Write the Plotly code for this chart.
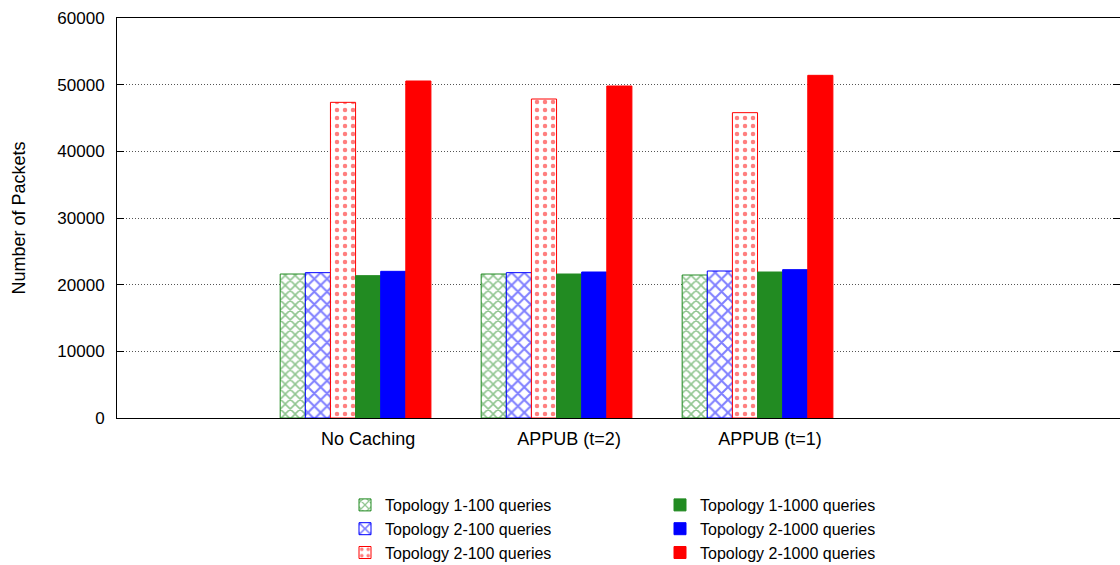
import plotly.graph_objects as go

# Packet counts per caching scheme
categories = ["No Caching", "APPUB (t=2)", "APPUB (t=1)"]
series_names = [
    "Topology 1-100 queries",
    "Topology 2-100 queries",
    "Topology 2-100 queries",
    "Topology 1-1000 queries",
    "Topology 2-1000 queries",
    "Topology 2-1000 queries",
]
topo1_100 = [21600, 21600, 21450]
topo2_100 = [21800, 21800, 22050]
topo2_100b = [47350, 47850, 45800]
topo1_1000 = [21350, 21600, 21900]
topo2_1000 = [22000, 21900, 22250]
topo2_1000b = [50550, 49800, 51400]
y_ticks = [0, 10000, 20000, 30000, 40000, 50000, 60000]

GREEN = "#228B22"
BLUE = "#0000FF"
RED = "#FF0000"
FONT = "Liberation Sans, Arial, sans-serif"

series = [topo1_100, topo2_100, topo2_100b, topo1_1000, topo2_1000, topo2_1000b]
colors = [GREEN, BLUE, RED, GREEN, BLUE, RED]
patterns = ["x", "x", ".", "", "", ""]
pattern_sizes = [7, 9, 8, 8, 8, 8]
pattern_solidity = [0.4, 0.4, 0.25, 0.3, 0.3, 0.3]

x_pos = list(range(len(categories)))

fig = go.Figure()
for i, (name, vals) in enumerate(zip(series_names, series)):
    hatched = patterns[i] != ""
    fig.add_trace(go.Bar(
        x=x_pos,
        y=vals,
        name=name,
        legend="legend" if hatched else "legend2",
        marker=dict(
            color="white" if hatched else colors[i],
            line=dict(color=colors[i], width=1),
            pattern=dict(
                shape=patterns[i],
                fgcolor=colors[i],
                bgcolor="white",
                size=pattern_sizes[i],
                solidity=pattern_solidity[i],
                fillmode="overlay",
            ) if hatched else dict(shape=""),
        ),
    ))

PLOT_W = 1120 - 117
PLOT_H = 565 - 18 - 147
legend_style = dict(
    font=dict(family=FONT, size=16, color="black"),
    bgcolor="rgba(0,0,0,0)",
    tracegroupgap=0,
    yanchor="top",
    y=-(488 - 418) / PLOT_H,
    xanchor="left",
)

fig.update_layout(
    width=1120,
    height=565,
    margin=dict(l=117, r=0, t=18, b=147, autoexpand=False),
    paper_bgcolor="white",
    plot_bgcolor="white",
    font=dict(family=FONT, size=18, color="black"),
    barmode="group",
    bargap=0.25,
    bargroupgap=0,
    legend=dict(x=(345 - 117) / PLOT_W, **legend_style),
    legend2=dict(x=(660 - 117) / PLOT_W, **legend_style),
)

fig.update_xaxes(
    range=[-1.187, 3.8035],
    tickvals=[p + 0.0625 for p in x_pos],
    ticktext=categories,
    ticks="",
    showgrid=False,
    zeroline=False,
    showline=True,
    linecolor="black",
    linewidth=1,
    mirror=True,
    tickfont=dict(family=FONT, size=18, color="black"),
    ticklabelstandoff=4,
)

fig.update_yaxes(
    range=[0, 60000],
    tickvals=y_ticks,
    tickformat="d",
    ticks="inside",
    ticklen=7,
    tickcolor="black",
    showline=True,
    linecolor="black",
    linewidth=1,
    mirror="ticks",
    showgrid=True,
    gridcolor="#555555",
    griddash="1px,2px",
    gridwidth=1,
    zeroline=False,
    tickfont=dict(family=FONT, size=17, color="black"),
    ticklabelstandoff=8,
    title=dict(text="Number of Packets", font=dict(family=FONT, size=18, color="black"), standoff=27),
)

fig.write_html("out.html")
